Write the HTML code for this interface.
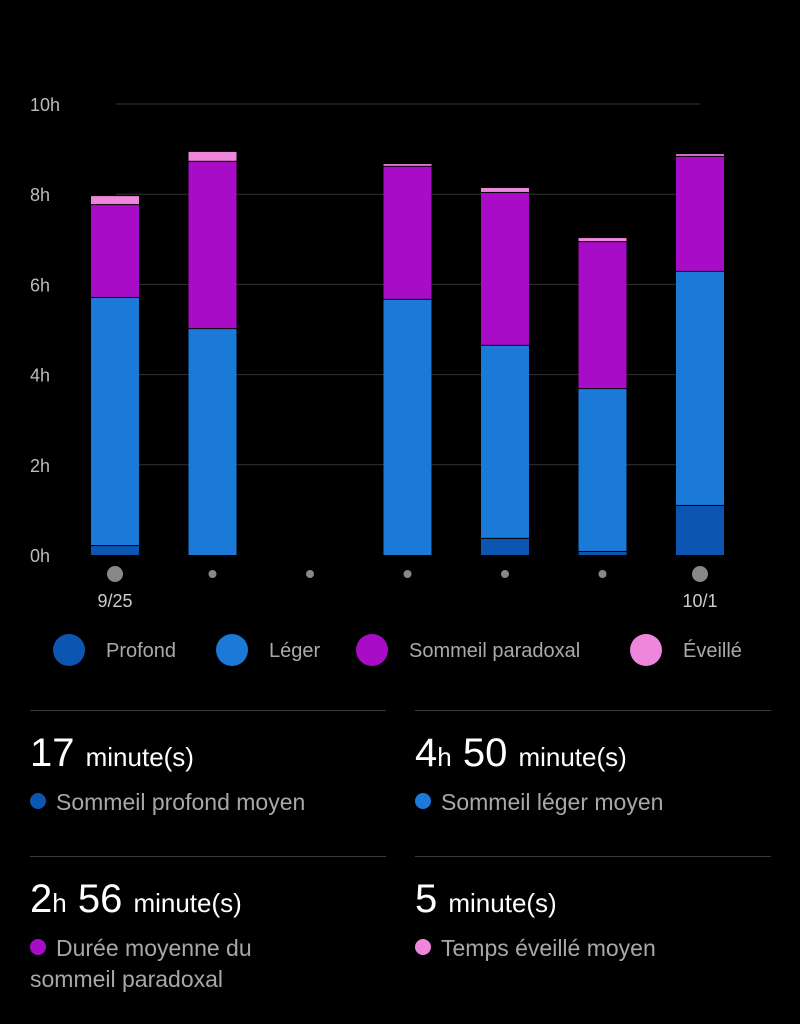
<!DOCTYPE html>
<html><head><meta charset="utf-8"><style>
body{margin:0;width:800px;height:1024px;background:#000;font-family:"Liberation Sans",sans-serif;color:#fff;overflow:hidden;position:relative}
.stat{position:absolute;width:356px;border-top:1px solid #3a3a3a}
.big{font-size:40px;margin-top:20px;line-height:44px}
.big small{font-size:26px}
.lab{font-size:23px;color:#a8a8a8;margin-top:8px;line-height:31px}
.dot{display:inline-block;width:16px;height:16px;border-radius:50%;margin-right:10px;vertical-align:1px}
</style></head><body>
<svg id="chart" width="800" height="700" style="position:absolute;left:0;top:0"></svg>
<div class="stat" style="left:30px;top:710px"><div class="big">17 <small>minute(s)</small></div><div class="lab"><span class="dot" style="background:#0c55b0"></span>Sommeil profond moyen</div></div>
<div class="stat" style="left:415px;top:710px"><div class="big">4<small>h</small> 50 <small>minute(s)</small></div><div class="lab"><span class="dot" style="background:#1b7ad8"></span>Sommeil léger moyen</div></div>
<div class="stat" style="left:30px;top:856px"><div class="big">2<small>h</small> 56 <small>minute(s)</small></div><div class="lab"><span class="dot" style="background:#a90cc6"></span>Durée moyenne du<br>sommeil paradoxal</div></div>
<div class="stat" style="left:415px;top:856px"><div class="big">5 <small>minute(s)</small></div><div class="lab"><span class="dot" style="background:#ee86dc"></span>Temps éveillé moyen</div></div>
<script>
const days=["9/25","","","","","","10/1"];
const deep=[0.22,0,0,0,0.38,0.09,1.11];
const light=[5.5,5.03,0,5.68,4.28,3.61,5.19];
const rem=[2.06,3.71,0,2.95,3.39,3.26,2.55];
const awake=[0.2,0.22,0,0.06,0.11,0.09,0.06];
const yTicks=[0,2,4,6,8,10];
const series=[deep,light,rem,awake];
const names=["Profond","Léger","Sommeil paradoxal","Éveillé"];
const colors=["#0c55b0","#1b7ad8","#a90cc6","#ee86dc"];
const svg=document.getElementById('chart');const NS="http://www.w3.org/2000/svg";
function y(v){return 555-v*45.1;}
function x(i){return 115+i*97.5;}
function mk(t,a,txt){const e=document.createElementNS(NS,t);for(const k in a)e.setAttribute(k,a[k]);if(txt!==undefined)e.textContent=txt;svg.appendChild(e);return e;}
yTicks.forEach(t=>{
 if(t>0){const l=mk('line',{x1:116,x2:700,y1:y(t),y2:y(t),stroke:'#333','stroke-width':1});
 }
 const tx=mk('text',{x:30,y:y(t)+7,fill:'#bbb','font-size':18,'font-family':'Liberation Sans'},t+'h');
 
});
days.forEach((d,i)=>{
 let base=0;
 series.forEach((s,k)=>{const v=s[i];if(v<=0)return;
  const r=mk('rect',{x:x(i)-24,width:48,y:y(base+v)+(base+v>0?1:0),height:Math.max(v*45.1-1,1),fill:colors[k]});
  
  base+=v;});
 const big=d!=="";
 const c=mk('circle',{cx:x(i),cy:574,r:big?8:4,fill:'#888'});
 
 if(big){const t=mk('text',{x:x(i),y:607,fill:'#ccc','font-size':18,'text-anchor':'middle','font-family':'Liberation Sans'},d);
 }
});
const lx=[69,232,372,646];
names.forEach((n,k)=>{
 const c=mk('circle',{cx:lx[k],cy:650,r:16,fill:colors[k]});
 
 const t=mk('text',{x:lx[k]+37,y:657,fill:'#aaa','font-size':20,'font-family':'Liberation Sans'},n);
 
});
</script>
</body></html>
